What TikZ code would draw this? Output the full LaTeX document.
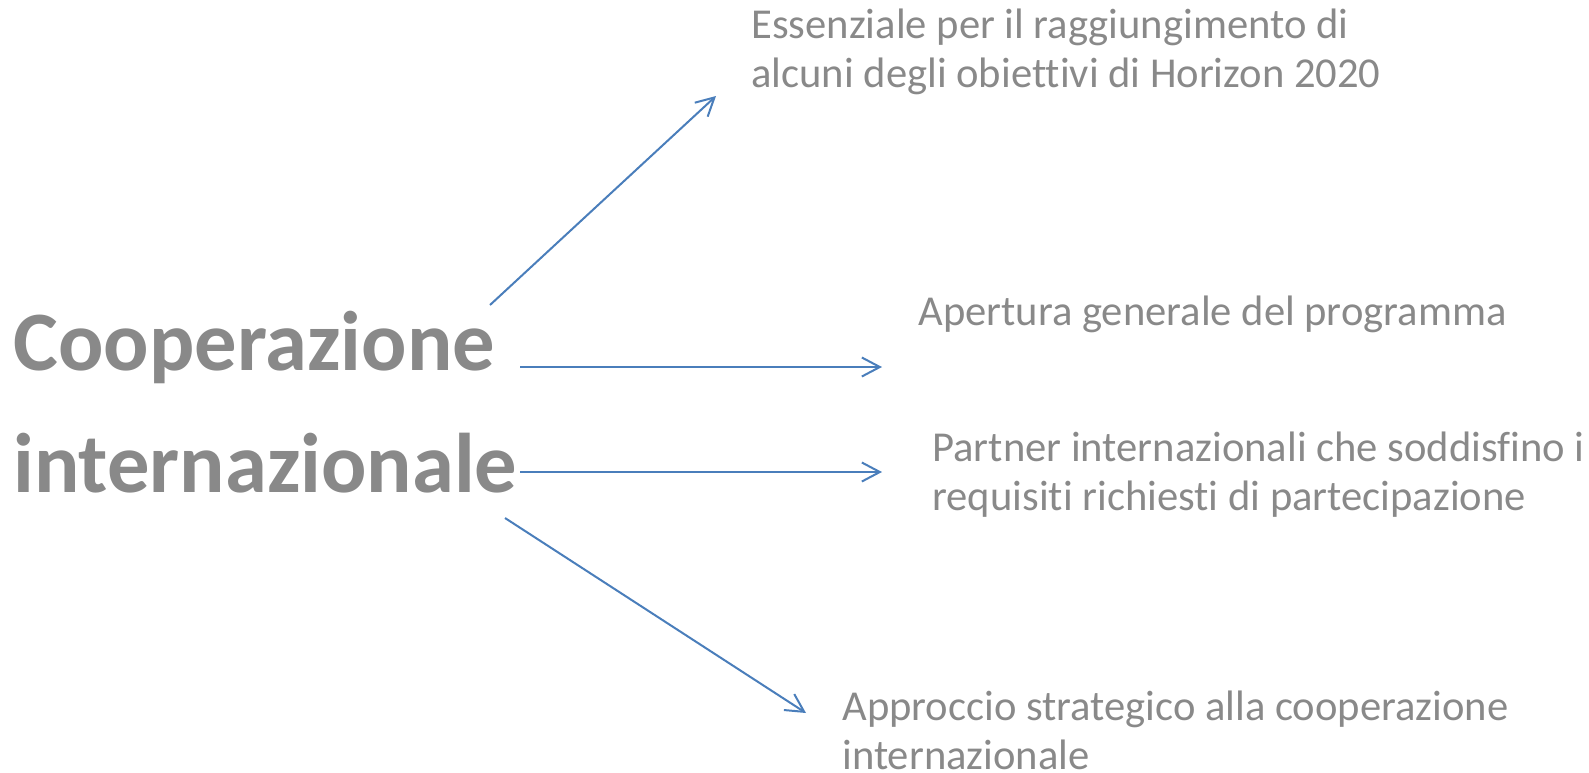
\documentclass[tikz,border=0pt]{standalone}
\usepackage{fontspec}
\setmainfont{Carlito}[Ligatures=NoCommon]
\usetikzlibrary{arrows.meta}
\definecolor{textgrey}{HTML}{898989}
\definecolor{linkblue}{HTML}{4A7EBB}

\begin{document}
\begin{tikzpicture}[
  x=0.5pt, y=-0.5pt,
  hub/.style={anchor=base west, inner sep=0pt, align=left, text=textgrey,
    font=\fontsize{42.3}{60.85}\selectfont\bfseries},
  item/.style={anchor=base west, inner sep=0pt, align=left, text=textgrey,
    font=\fontsize{21.3}{24.1}\selectfont},
  link/.style={draw=linkblue, line width=1pt,
    -{Straight Barb[length=9pt,width=9.5pt]}}
]
  \useasboundingbox (0,0) rectangle (1589,772);

  % base west = baseline of the last line
  \node[hub] (coop) at (13,492) {Cooperazione\\internazionale};

  \node[item] (goals) at (751,87) {Essenziale per il raggiungimento di\\alcuni degli obiettivi di Horizon 2020};
  \node[item] (open) at (918,325) {Apertura generale del programma};
  \node[item] (partner) at (932,510) {Partner internazionali che soddisfino i\\requisiti richiesti di partecipazione};
  \node[item] (approach) at (842,769) {Approccio strategico alla cooperazione\\internazionale};

  % arrow ends
  \coordinate (s1) at (490,305);
  \coordinate (e1) at (716,96);
  \coordinate (s2) at (520,367);
  \coordinate (e2) at (882,367);
  \coordinate (s3) at (520,472);
  \coordinate (e3) at (882,472);
  \coordinate (s4) at (505,518);
  \coordinate (e4) at (806,713);

  \draw[link] (s1) -- (e1);
  \draw[link] (s2) -- (e2);
  \draw[link] (s3) -- (e3);
  \draw[link] (s4) -- (e4);
\end{tikzpicture}
\end{document}
